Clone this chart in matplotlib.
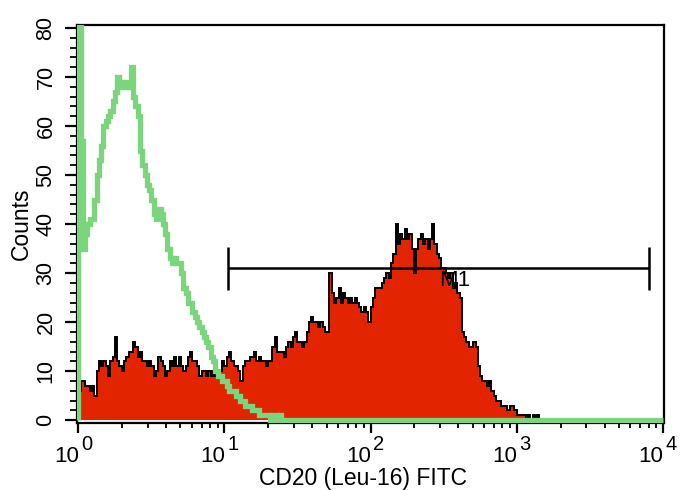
import numpy as np
import matplotlib
matplotlib.use("Agg")
import matplotlib.pyplot as plt
from matplotlib.ticker import LogLocator, MultipleLocator, NullFormatter
from matplotlib.transforms import offset_copy

plt.rcParams['font.family'] = ['Liberation Sans', 'DejaVu Sans']

# ---------------- data ----------------
x_decades = [0, 1, 2, 3, 4]
tick_base = "10"
y_ticks = [0, 10, 20, 30, 40, 50, 60, 70, 80]
xlabel = "CD20 (Leu-16) FITC"
ylabel = "Counts"
gate_label = "M1"
gate_range = [10.6, 8050]
gate_level = 31.0
gate_half_height = 4.4
gate_label_pos = [296, 30.6]

red_counts = [
    6, 8, 8, 7, 7, 6, 7, 5, 10, 12,
    11, 12, 11, 9, 12, 13, 17, 12, 11, 10,
    12, 13, 14, 14, 16, 15, 13, 14, 12, 12,
    11, 12, 11, 9, 10, 13, 12, 11, 9, 10,
    12, 11, 13, 11, 13, 11, 10, 11, 13, 14,
    12, 12, 11, 9, 10, 10, 9, 10, 9, 10,
    9, 10, 10, 12, 11, 13, 14, 12, 11, 11,
    10, 8, 11, 12, 12, 13, 13, 14, 12, 13,
    12, 12, 11, 12, 12, 15, 17, 14, 14, 14,
    13, 15, 16, 15, 17, 18, 16, 16, 15, 16,
    18, 20, 21, 20, 20, 19, 20, 19, 18, 18,
    30, 26, 24, 25, 27, 24, 26, 25, 24, 25,
    24, 25, 24, 23, 22, 23, 22, 20, 23, 25,
    27, 27, 27, 28, 29, 30, 29, 32, 34, 40,
    36, 38, 37, 39, 37, 38, 35, 30, 35, 37,
    38, 36, 37, 35, 37, 40, 36, 34, 33, 31,
    31, 30, 29, 30, 27, 28, 26, 25, 18, 17,
    16, 15, 15, 16, 15, 11, 9, 8, 8, 7,
    8, 6, 5, 4, 4, 3, 3, 3, 2, 3,
    3, 2, 1, 1, 1, 1, 0, 1, 0, 1,
    0, 1, 0, 0, 0, 0, 0, 0, 0, 0,
    0, 0, 0, 0, 0, 0, 0, 0, 0, 0,
    0, 0, 0, 0, 0, 0, 0, 0, 0, 0,
    0, 0, 0, 0, 0, 0, 0, 0, 0, 0,
    0, 0, 0, 0, 0, 0, 0, 0, 0, 0,
    0, 0, 0, 0, 0, 0,
]

green_counts = [
    95, 57, 35, 38, 40, 41, 41, 45, 50, 53,
    56, 60, 61, 62, 63, 65, 67, 70, 68, 69,
    68, 69, 68, 72, 66, 64, 62, 55, 52, 50,
    48, 47, 45, 42, 41, 43, 42, 40, 38, 35,
    33, 32, 33, 32, 32, 30, 27, 26, 24, 24,
    22, 21, 20, 19, 18, 17, 16, 15, 13, 12,
    10, 9, 9, 8, 8, 7, 6, 6, 6, 5,
    5, 4, 4, 3, 3, 3, 2, 2, 2, 1,
    1, 1, 1, 1, 0, 1, 1, 0, 1, 0,
    0, 0, 0, 0, 0, 0, 0, 0, 0, 0,
    0, 0, 0, 0, 0, 0, 0, 0, 0, 0,
    0, 0, 0, 0, 0, 0, 0, 0, 0, 0,
    0, 0, 0, 0, 0, 0, 0, 0, 0, 0,
    0, 0, 0, 0, 0, 0, 0, 0, 0, 0,
    0, 0, 0, 0, 0, 0, 0, 0, 0, 0,
    0, 0, 0, 0, 0, 0, 0, 0, 0, 0,
    0, 0, 0, 0, 0, 0, 0, 0, 0, 0,
    0, 0, 0, 0, 0, 0, 0, 0, 0, 0,
    0, 0, 0, 0, 0, 0, 0, 0, 0, 0,
    0, 0, 0, 0, 0, 0, 0, 0, 0, 0,
    0, 0, 0, 0, 0, 0, 0, 0, 0, 0,
    0, 0, 0, 0, 0, 0, 0, 0, 0, 0,
    0, 0, 0, 0, 0, 0, 0, 0, 0, 0,
    0, 0, 0, 0, 0, 0, 0, 0, 0, 0,
    0, 0, 0, 0, 0, 0, 0, 0, 0, 0,
    0, 0, 0, 0, 0, 0,
]

# ---------------- plot ----------------
edges = np.logspace(x_decades[0], x_decades[-1], len(red_counts) + 1)

fig = plt.figure(figsize=(6.82, 4.90), dpi=100)
ax = fig.add_axes([0.1125, 0.1373, 0.8611, 0.8117])

ax.stairs(red_counts, edges, fill=True, color='#E22400', lw=0, zorder=2)
ax.stairs(red_counts, edges, color='black', lw=1.4, zorder=3)
ax.stairs(green_counts, edges, color='#7AD57C', lw=3.8, zorder=4)

ax.set_xscale('log')
ax.set_xlim(10 ** -0.011, 10 ** 4.009)
ax.set_ylim(-0.5, 80.6)

# gate marker
ax.hlines(gate_level, gate_range[0], gate_range[1], color='black', lw=1.8, zorder=5)
ax.vlines(gate_range, gate_level - gate_half_height, gate_level + gate_half_height,
          color='black', lw=1.8, zorder=5)
ax.text(gate_label_pos[0], gate_label_pos[1], gate_label, ha='left', va='top',
        fontsize=16, color='black', zorder=6)

# ticks
ax.xaxis.set_major_locator(LogLocator(base=10, numticks=10))
ax.xaxis.set_minor_locator(LogLocator(base=10, subs=np.arange(2, 10), numticks=20))
ax.xaxis.set_major_formatter(NullFormatter())
ax.xaxis.set_minor_formatter(NullFormatter())
ax.tick_params(axis='x', which='major', direction='out', length=7, width=1.6)
ax.tick_params(axis='x', which='minor', direction='out', length=3.6, width=1.3)

ax.set_yticks(y_ticks)
ax.yaxis.set_minor_locator(MultipleLocator(2))
ax.tick_params(axis='y', which='major', direction='out', length=8.5, width=1.6,
               labelsize=15.5, pad=6, labelrotation=90)
ax.tick_params(axis='y', which='minor', direction='out', length=5, width=1.3)
for lab in ax.get_yticklabels():
    lab.set_va('center')

for s in ax.spines.values():
    s.set_linewidth(1.6)

# x tick labels as 10 with raised exponent
trans = ax.get_xaxis_transform()
tb = offset_copy(trans, fig=fig, x=0.3, y=0, units='points')
te = offset_copy(trans, fig=fig, x=2.0, y=0, units='points')
for d in x_decades:
    ax.text(10 ** d, -0.0988, tick_base, transform=tb, ha='right', va='baseline',
            fontsize=16, clip_on=False)
    ax.text(10 ** d, -0.0686, str(d), transform=te, ha='left', va='baseline',
            fontsize=14.5, clip_on=False)

fig.text(363 / 682, 1 - 478 / 490, xlabel, ha='center', va='center', fontsize=16.5)
fig.text(21 / 682, 1 - 224 / 490, ylabel, ha='center', va='center', fontsize=16.5,
         rotation=90)

fig.savefig("out.png", dpi=100)
